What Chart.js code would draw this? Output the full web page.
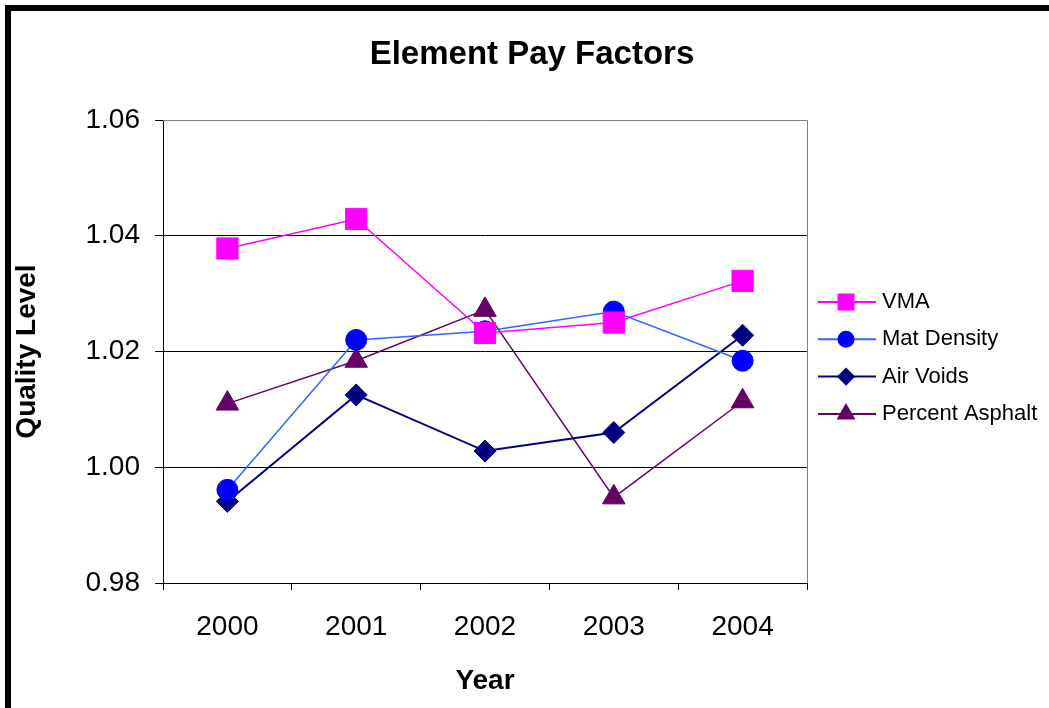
<!DOCTYPE html>
<html>
<head>
<meta charset="utf-8">
<script src="https://cdn.jsdelivr.net/npm/chart.js@4"></script>
<style>
html, body { margin: 0; padding: 0; background: #fff; overflow: hidden; }
canvas { position: absolute; left: 0; top: 0; }
#frame { position: absolute; left: 5px; top: 5px; width: 1200px; height: 900px;
  border-left: 6px solid #000; border-top: 6px solid #000; pointer-events: none; }
</style>
</head>
<body>
<canvas id="myChart" width="1049" height="708"></canvas>
<div id="frame"></div>
<script>
// values
const years = ['2000', '2001', '2002', '2003', '2004'];
const vma = [1.0378, 1.0429, 1.0232, 1.0250, 1.0322];
const matDensity = [0.9961, 1.0220, 1.0235, 1.0269, 1.0184];
const airVoids = [0.9941, 1.0125, 1.0028, 1.0060, 1.0228];
const percentAsphalt = [1.0110, 1.0184, 1.0272, 0.9948, 1.0114];
const yTicks = [0.98, 1.00, 1.02, 1.04, 1.06];

const FONT = "'Liberation Sans', Arial, sans-serif";

function series(label, data, line, fill, style, radius, width) {
    return {
        label: label,
        data: data,
        borderColor: line,
        backgroundColor: fill,
        borderWidth: width,
        pointStyle: style,
        pointRadius: radius,
        pointHoverRadius: radius,
        pointBackgroundColor: fill,
        pointBorderColor: fill,
        pointBorderWidth: 1,
        tension: 0
    };
}

const datasets = [
    series('VMA', vma, '#ff00ff', '#ff00ff', 'rect', 15, 1.5),
    series('Mat Density', matDensity, '#3366ff', '#0000ff', 'circle', 10.5, 1.5),
    series('Air Voids', airVoids, '#000080', '#000080', 'rectRot', 11, 2),
    series('Percent Asphalt', percentAsphalt, '#660066', '#660066', 'triangle', 13, 1.5)
];

// legend sizes are smaller than the plotted markers
const legendRadius = { rect: 10.5, circle: 7.5, rectRot: 7.8, triangle: 9 };

const frameAndText = {
    id: 'frameAndText',
    beforeDatasetsDraw(chart) {
        const { ctx, chartArea } = chart;
        ctx.save();
        ctx.strokeStyle = '#808080';
        ctx.lineWidth = 1;
        ctx.beginPath();
        ctx.moveTo(chartArea.left, chartArea.top + 0.5);
        ctx.lineTo(chartArea.right + 0.5, chartArea.top + 0.5);
        ctx.lineTo(chartArea.right + 0.5, chartArea.bottom);
        ctx.stroke();
        ctx.restore();
    },
    afterDraw(chart) {
        const ctx = chart.ctx;
        ctx.save();
        // title
        ctx.fillStyle = '#000';
        ctx.font = 'bold 33px ' + FONT;
        ctx.textAlign = 'center';
        ctx.textBaseline = 'alphabetic';
        ctx.fillText('Element Pay Factors', 532, 64);

        // legend
        ctx.font = '22px ' + FONT;
        ctx.textAlign = 'left';
        chart.data.datasets.forEach((ds, i) => {
            const cy = 300 + i * 37.3;
            const my = cy + 2;
            ctx.strokeStyle = ds.borderColor;
            ctx.lineWidth = 2;
            ctx.beginPath();
            ctx.moveTo(818, my);
            ctx.lineTo(876, my);
            ctx.stroke();
            ctx.fillStyle = ds.pointBackgroundColor;
            ctx.strokeStyle = ds.pointBackgroundColor;
            Chart.helpers.drawPoint(ctx, {
                pointStyle: ds.pointStyle,
                radius: legendRadius[ds.pointStyle],
                rotation: 0,
                borderWidth: 1
            }, 846, my);
            ctx.fillStyle = '#000';
            ctx.fillText(ds.label, 882, cy + 8);
        });
        ctx.restore();
    }
};

const ctx = document.getElementById('myChart');

new Chart(ctx, {
    type: 'line',
    data: {
        labels: years,
        datasets: datasets
    },
    options: {
        responsive: false,
        animation: false,
        layout: {
            padding: { top: 120, right: 242, bottom: 0, left: 0 }
        },
        plugins: {
            legend: { display: false },
            title: { display: false },
            tooltip: { enabled: false }
        },
        scales: {
            x: {
                offset: true,
                afterFit: (scale) => { scale.height = 125; },
                grid: {
                    offset: true,
                    drawOnChartArea: false,
                    drawTicks: true,
                    tickLength: 7,
                    tickColor: '#000'
                },
                border: { color: '#000', width: 1 },
                ticks: {
                    color: '#000',
                    padding: 20,
                    font: { family: FONT, size: 28 }
                },
                title: {
                    display: true,
                    text: 'Year',
                    color: '#000',
                    padding: { top: 0, bottom: 10 },
                    font: { family: FONT, size: 28, weight: 'bold' }
                }
            },
            y: {
                min: 0.98,
                max: 1.06,
                afterFit: (scale) => { scale.width = 163; },
                afterBuildTicks: (scale) => {
                    scale.ticks = yTicks.map(v => ({ value: v }));
                },
                grid: {
                    color: (c) => (c.tick && Math.abs(c.tick.value - 1.06) < 1e-6) ? 'rgba(0,0,0,0)' : '#000',
                    lineWidth: 1,
                    tickLength: 8,
                    tickColor: '#000'
                },
                border: { color: '#000', width: 1 },
                ticks: {
                    color: '#000',
                    padding: 15,
                    font: { family: FONT, size: 28 },
                    callback: (v) => Number(v).toFixed(2)
                },
                title: {
                    display: true,
                    text: 'Quality Level',
                    color: '#000',
                    padding: { top: 10, bottom: 0 },
                    font: { family: FONT, size: 28, weight: 'bold' }
                }
            }
        }
    },
    plugins: [frameAndText]
});
</script>
</body>
</html>
